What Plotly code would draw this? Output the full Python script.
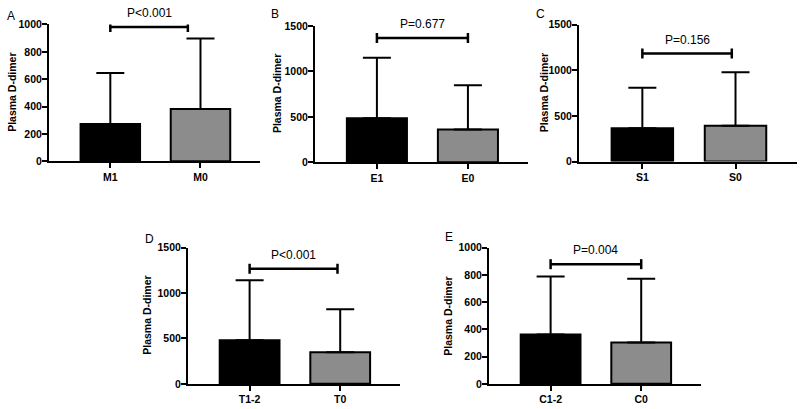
import plotly.graph_objects as go

# ---- data ----
panel_letters = ["A", "B", "C", "D", "E"]
cat_A = ["M1", "M0"]
cat_B = ["E1", "E0"]
cat_C = ["S1", "S0"]
cat_D = ["T1-2", "T0"]
cat_E = ["C1-2", "C0"]
mean_A = [272, 383]
mean_B = [484, 360]
mean_C = [365, 394]
mean_D = [481, 349]
mean_E = [363, 304]
err_A = [373, 515]
err_B = [667, 488]
err_C = [443, 585]
err_D = [659, 474]
err_E = [425, 468]
p_text = ["P<0.001", "P=0.677", "P=0.156", "P<0.001", "P=0.004"]
bracket_level = [981, 1368, 1184, 1268, 879]
bracket_end = [0.86, 1.0, 0.96, 0.97, 1.0]
y_max = [1000, 1500, 1500, 1500, 1000]
y_step = [200, 500, 500, 500, 200]
y_title = "Plasma D-dimer"

cats = [cat_A, cat_B, cat_C, cat_D, cat_E]
means = [mean_A, mean_B, mean_C, mean_D, mean_E]
errs = [err_A, err_B, err_C, err_D, err_E]

# ---- layout geometry (pixels in an 800x409 page) ----
W, H = 800, 409
px_x = [(49, 260), (315, 528), (579, 797), (188, 400), (489, 701)]
px_y = [(19, 160), (20.5, 161), (19.3, 160.3), (249, 389.3), (249, 389.3)]
letter_pos = [(5, 10), (269, 8), (534, 8), (143, 240), (443, 238)]
title_shift = [-37, -38, -35, -41, -41]

FONT = "Arial, 'Liberation Sans', Helvetica, sans-serif"
fills = ["#000000", "#8c8c8c"]

fig = go.Figure()
layout = dict(
    width=W, height=H, margin=dict(l=0, r=0, t=0, b=0),
    paper_bgcolor="white", plot_bgcolor="white",
    showlegend=False, font=dict(family=FONT, color="black"),
)
shapes = []
annotations = []

for i in range(5):
    n = "" if i == 0 else str(i + 1)
    xa, ya = "x" + n, "y" + n
    fig.add_trace(go.Bar(
        x=cats[i], y=means[i], xaxis=xa, yaxis=ya,
        width=0.66,
        marker=dict(color=fills, line=dict(color="black", width=2)),
        error_y=dict(type="data", array=errs[i], arrayminus=[0, 0],
                     symmetric=False, color="black", thickness=2, width=14),
        hoverinfo="skip",
    ))
    x0, x1 = px_x[i]
    y0, y1 = px_y[i]
    layout["xaxis" + n] = dict(
        domain=[x0 / W, x1 / W], anchor=ya, type="category",
        range=[-0.68, 1.66], showline=True, linewidth=2, linecolor="black",
        ticks="outside", ticklen=5, tickwidth=1.5, tickcolor="black",
        tickfont=dict(family=FONT, size=10.5, weight="bold", color="black"),
        showgrid=False, zeroline=False, fixedrange=True,
    )
    layout["yaxis" + n] = dict(
        domain=[1 - y1 / H, 1 - y0 / H], anchor=xa,
        range=[0, y_max[i]], dtick=y_step[i], showline=True, linewidth=2,
        linecolor="black", ticks="outside", ticklen=5, tickwidth=2,
        tickcolor="black", ticklabelstandoff=-2,
        tickfont=dict(family=FONT, size=10.5, weight="bold", color="black"),
        showgrid=False, zeroline=False, fixedrange=True,
    )
    # y-axis title
    annotations.append(dict(
        xref=xa + " domain", yref=ya + " domain", x=0, y=0.5,
        xshift=title_shift[i], text=y_title, textangle=-90, showarrow=False,
        font=dict(family=FONT, size=10.5, weight="bold", color="black"),
        xanchor="center", yanchor="middle",
    ))
    # significance bracket
    lvl = bracket_level[i]
    be = bracket_end[i]
    shapes.append(dict(type="line", xref=xa, yref=ya, x0=0, x1=be, y0=lvl, y1=lvl,
                       line=dict(color="black", width=2.5)))
    for xe in (0, be):
        shapes.append(dict(type="line", xref=xa, yref=ya, x0=xe, x1=xe,
                           ysizemode="pixel", yanchor=lvl, y0=-5, y1=5,
                           line=dict(color="black", width=2.5)))
    annotations.append(dict(
        xref=xa, yref=ya, x=be / 2, y=lvl, yshift=14, text=p_text[i],
        showarrow=False, font=dict(family=FONT, size=12, color="black"),
        xanchor="center", yanchor="middle",
    ))
    lx, ly = letter_pos[i]
    annotations.append(dict(
        xref="paper", yref="paper", x=lx / W, y=1 - ly / H, text=panel_letters[i],
        showarrow=False, font=dict(family=FONT, size=12, color="black"),
        xanchor="left", yanchor="middle",
    ))

layout["shapes"] = shapes
layout["annotations"] = annotations
fig.update_layout(**layout)
fig.write_html("out.html", config={"displayModeBar": False},
               post_script="document.body.style.margin='0';document.body.style.overflow='hidden';")
